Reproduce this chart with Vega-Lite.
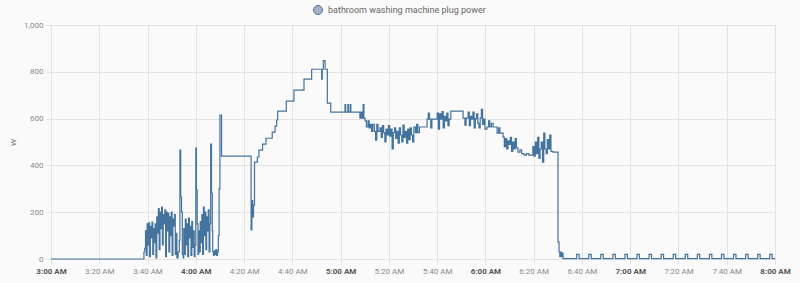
{
  "autosize": "none",
  "width": 724,
  "height": 234,
  "padding": {"left": 51, "top": 25, "right": 25, "bottom": 24},
  "background": "#fafafa",
  "config": {"view": {"stroke": null}, "font": "Roboto"},
  "data": {
    "values": [
      {"t": "2024-01-01T03:00:00", "w": 0},
      {"t": "2024-01-01T03:38:30", "w": 30},
      {"t": "2024-01-01T03:38:50", "w": 45},
      {"t": "2024-01-01T03:39:10", "w": 120},
      {"t": "2024-01-01T03:39:30", "w": 15},
      {"t": "2024-01-01T03:39:50", "w": 150},
      {"t": "2024-01-01T03:40:10", "w": 60},
      {"t": "2024-01-01T03:40:30", "w": 155},
      {"t": "2024-01-01T03:40:50", "w": 10},
      {"t": "2024-01-01T03:41:10", "w": 140},
      {"t": "2024-01-01T03:41:30", "w": 90},
      {"t": "2024-01-01T03:41:50", "w": 158},
      {"t": "2024-01-01T03:42:10", "w": 20},
      {"t": "2024-01-01T03:42:30", "w": 130},
      {"t": "2024-01-01T03:42:50", "w": 70},
      {"t": "2024-01-01T03:43:10", "w": 150},
      {"t": "2024-01-01T03:43:30", "w": 5},
      {"t": "2024-01-01T03:43:50", "w": 180},
      {"t": "2024-01-01T03:44:10", "w": 110},
      {"t": "2024-01-01T03:44:30", "w": 215},
      {"t": "2024-01-01T03:44:50", "w": 40},
      {"t": "2024-01-01T03:45:10", "w": 200},
      {"t": "2024-01-01T03:45:30", "w": 130},
      {"t": "2024-01-01T03:45:50", "w": 222},
      {"t": "2024-01-01T03:46:10", "w": 60},
      {"t": "2024-01-01T03:46:30", "w": 190},
      {"t": "2024-01-01T03:46:50", "w": 150},
      {"t": "2024-01-01T03:47:10", "w": 210},
      {"t": "2024-01-01T03:47:30", "w": 10},
      {"t": "2024-01-01T03:47:50", "w": 200},
      {"t": "2024-01-01T03:48:10", "w": 120},
      {"t": "2024-01-01T03:48:30", "w": 195},
      {"t": "2024-01-01T03:48:50", "w": 30},
      {"t": "2024-01-01T03:49:10", "w": 180},
      {"t": "2024-01-01T03:49:30", "w": 100},
      {"t": "2024-01-01T03:49:50", "w": 200},
      {"t": "2024-01-01T03:50:10", "w": 15},
      {"t": "2024-01-01T03:50:30", "w": 170},
      {"t": "2024-01-01T03:50:50", "w": 140},
      {"t": "2024-01-01T03:51:10", "w": 190},
      {"t": "2024-01-01T03:51:30", "w": 20},
      {"t": "2024-01-01T03:51:50", "w": 110},
      {"t": "2024-01-01T03:52:10", "w": 5},
      {"t": "2024-01-01T03:52:40", "w": 30},
      {"t": "2024-01-01T03:53:10", "w": 80},
      {"t": "2024-01-01T03:53:25", "w": 465},
      {"t": "2024-01-01T03:53:45", "w": 265},
      {"t": "2024-01-01T03:54:05", "w": 200},
      {"t": "2024-01-01T03:54:25", "w": 20},
      {"t": "2024-01-01T03:54:45", "w": 5},
      {"t": "2024-01-01T03:55:00", "w": 130},
      {"t": "2024-01-01T03:55:20", "w": 20},
      {"t": "2024-01-01T03:55:40", "w": 170},
      {"t": "2024-01-01T03:56:00", "w": 60},
      {"t": "2024-01-01T03:56:20", "w": 150},
      {"t": "2024-01-01T03:56:40", "w": 10},
      {"t": "2024-01-01T03:57:00", "w": 175},
      {"t": "2024-01-01T03:57:20", "w": 90},
      {"t": "2024-01-01T03:57:40", "w": 140},
      {"t": "2024-01-01T03:58:00", "w": 15},
      {"t": "2024-01-01T03:58:20", "w": 160},
      {"t": "2024-01-01T03:58:40", "w": 50},
      {"t": "2024-01-01T03:59:00", "w": 120},
      {"t": "2024-01-01T03:59:20", "w": 10},
      {"t": "2024-01-01T03:59:40", "w": 60},
      {"t": "2024-01-01T04:00:00", "w": 474},
      {"t": "2024-01-01T04:00:15", "w": 295},
      {"t": "2024-01-01T04:00:35", "w": 150},
      {"t": "2024-01-01T04:00:55", "w": 20},
      {"t": "2024-01-01T04:01:10", "w": 120},
      {"t": "2024-01-01T04:01:30", "w": 30},
      {"t": "2024-01-01T04:01:50", "w": 160},
      {"t": "2024-01-01T04:02:10", "w": 70},
      {"t": "2024-01-01T04:02:30", "w": 190},
      {"t": "2024-01-01T04:02:50", "w": 20},
      {"t": "2024-01-01T04:03:10", "w": 222},
      {"t": "2024-01-01T04:03:30", "w": 100},
      {"t": "2024-01-01T04:03:50", "w": 200},
      {"t": "2024-01-01T04:04:10", "w": 40},
      {"t": "2024-01-01T04:04:30", "w": 180},
      {"t": "2024-01-01T04:04:50", "w": 120},
      {"t": "2024-01-01T04:05:10", "w": 210},
      {"t": "2024-01-01T04:05:30", "w": 30},
      {"t": "2024-01-01T04:05:50", "w": 150},
      {"t": "2024-01-01T04:06:10", "w": 491},
      {"t": "2024-01-01T04:06:30", "w": 282},
      {"t": "2024-01-01T04:06:50", "w": 120},
      {"t": "2024-01-01T04:07:00", "w": 30},
      {"t": "2024-01-01T04:07:20", "w": 15},
      {"t": "2024-01-01T04:07:40", "w": 35},
      {"t": "2024-01-01T04:08:00", "w": 20},
      {"t": "2024-01-01T04:08:20", "w": 40},
      {"t": "2024-01-01T04:08:40", "w": 15},
      {"t": "2024-01-01T04:09:00", "w": 30},
      {"t": "2024-01-01T04:09:20", "w": 100},
      {"t": "2024-01-01T04:09:40", "w": 300},
      {"t": "2024-01-01T04:10:00", "w": 615},
      {"t": "2024-01-01T04:10:40", "w": 440},
      {"t": "2024-01-01T04:22:55", "w": 124},
      {"t": "2024-01-01T04:23:15", "w": 250},
      {"t": "2024-01-01T04:23:35", "w": 180},
      {"t": "2024-01-01T04:23:55", "w": 230},
      {"t": "2024-01-01T04:24:20", "w": 414},
      {"t": "2024-01-01T04:25:30", "w": 436},
      {"t": "2024-01-01T04:26:10", "w": 465},
      {"t": "2024-01-01T04:27:40", "w": 491},
      {"t": "2024-01-01T04:29:05", "w": 516},
      {"t": "2024-01-01T04:31:40", "w": 542},
      {"t": "2024-01-01T04:32:50", "w": 568},
      {"t": "2024-01-01T04:33:30", "w": 594},
      {"t": "2024-01-01T04:33:55", "w": 632},
      {"t": "2024-01-01T04:37:30", "w": 675},
      {"t": "2024-01-01T04:40:40", "w": 722},
      {"t": "2024-01-01T04:44:50", "w": 769},
      {"t": "2024-01-01T04:48:00", "w": 811},
      {"t": "2024-01-01T04:52:10", "w": 769},
      {"t": "2024-01-01T04:52:25", "w": 811},
      {"t": "2024-01-01T04:52:50", "w": 848},
      {"t": "2024-01-01T04:53:35", "w": 811},
      {"t": "2024-01-01T04:54:30", "w": 666},
      {"t": "2024-01-01T04:55:55", "w": 628},
      {"t": "2024-01-01T05:01:50", "w": 660},
      {"t": "2024-01-01T05:02:05", "w": 628},
      {"t": "2024-01-01T05:03:00", "w": 660},
      {"t": "2024-01-01T05:03:15", "w": 628},
      {"t": "2024-01-01T05:04:00", "w": 660},
      {"t": "2024-01-01T05:04:15", "w": 628},
      {"t": "2024-01-01T05:08:00", "w": 602},
      {"t": "2024-01-01T05:08:30", "w": 628},
      {"t": "2024-01-01T05:08:50", "w": 602},
      {"t": "2024-01-01T05:09:20", "w": 660},
      {"t": "2024-01-01T05:09:40", "w": 602},
      {"t": "2024-01-01T05:10:10", "w": 590},
      {"t": "2024-01-01T05:10:40", "w": 564},
      {"t": "2024-01-01T05:11:20", "w": 590},
      {"t": "2024-01-01T05:11:50", "w": 560},
      {"t": "2024-01-01T05:12:20", "w": 575},
      {"t": "2024-01-01T05:12:50", "w": 545},
      {"t": "2024-01-01T05:13:20", "w": 575},
      {"t": "2024-01-01T05:14:00", "w": 545},
      {"t": "2024-01-01T05:14:30", "w": 508},
      {"t": "2024-01-01T05:15:00", "w": 575},
      {"t": "2024-01-01T05:15:30", "w": 545},
      {"t": "2024-01-01T05:16:20", "w": 560},
      {"t": "2024-01-01T05:16:50", "w": 520},
      {"t": "2024-01-01T05:17:20", "w": 570},
      {"t": "2024-01-01T05:17:50", "w": 540},
      {"t": "2024-01-01T05:18:20", "w": 500},
      {"t": "2024-01-01T05:18:50", "w": 555},
      {"t": "2024-01-01T05:19:20", "w": 530},
      {"t": "2024-01-01T05:19:50", "w": 570},
      {"t": "2024-01-01T05:20:20", "w": 525},
      {"t": "2024-01-01T05:20:50", "w": 555},
      {"t": "2024-01-01T05:21:20", "w": 470},
      {"t": "2024-01-01T05:21:50", "w": 540},
      {"t": "2024-01-01T05:22:20", "w": 560},
      {"t": "2024-01-01T05:22:50", "w": 515},
      {"t": "2024-01-01T05:23:20", "w": 545},
      {"t": "2024-01-01T05:23:50", "w": 495},
      {"t": "2024-01-01T05:24:20", "w": 560},
      {"t": "2024-01-01T05:24:50", "w": 530},
      {"t": "2024-01-01T05:25:20", "w": 500},
      {"t": "2024-01-01T05:25:50", "w": 572},
      {"t": "2024-01-01T05:26:20", "w": 520},
      {"t": "2024-01-01T05:26:50", "w": 545},
      {"t": "2024-01-01T05:27:20", "w": 495},
      {"t": "2024-01-01T05:27:50", "w": 555},
      {"t": "2024-01-01T05:28:20", "w": 510},
      {"t": "2024-01-01T05:28:50", "w": 560},
      {"t": "2024-01-01T05:29:20", "w": 530},
      {"t": "2024-01-01T05:29:50", "w": 500},
      {"t": "2024-01-01T05:30:20", "w": 564},
      {"t": "2024-01-01T05:31:00", "w": 540},
      {"t": "2024-01-01T05:31:30", "w": 575},
      {"t": "2024-01-01T05:32:00", "w": 540},
      {"t": "2024-01-01T05:32:40", "w": 564},
      {"t": "2024-01-01T05:35:50", "w": 598},
      {"t": "2024-01-01T05:36:20", "w": 623},
      {"t": "2024-01-01T05:36:50", "w": 598},
      {"t": "2024-01-01T05:37:20", "w": 560},
      {"t": "2024-01-01T05:37:50", "w": 598},
      {"t": "2024-01-01T05:40:00", "w": 623},
      {"t": "2024-01-01T05:40:30", "w": 555},
      {"t": "2024-01-01T05:41:00", "w": 620},
      {"t": "2024-01-01T05:41:30", "w": 598},
      {"t": "2024-01-01T05:42:00", "w": 630},
      {"t": "2024-01-01T05:42:30", "w": 560},
      {"t": "2024-01-01T05:43:00", "w": 610},
      {"t": "2024-01-01T05:43:30", "w": 590},
      {"t": "2024-01-01T05:44:00", "w": 623},
      {"t": "2024-01-01T05:44:30", "w": 570},
      {"t": "2024-01-01T05:45:00", "w": 598},
      {"t": "2024-01-01T05:45:40", "w": 632},
      {"t": "2024-01-01T05:50:45", "w": 602},
      {"t": "2024-01-01T05:51:30", "w": 572},
      {"t": "2024-01-01T05:52:00", "w": 602},
      {"t": "2024-01-01T05:52:50", "w": 628},
      {"t": "2024-01-01T05:53:20", "w": 570},
      {"t": "2024-01-01T05:53:50", "w": 610},
      {"t": "2024-01-01T05:54:20", "w": 598},
      {"t": "2024-01-01T05:54:50", "w": 628},
      {"t": "2024-01-01T05:55:20", "w": 560},
      {"t": "2024-01-01T05:55:50", "w": 600},
      {"t": "2024-01-01T05:56:20", "w": 620},
      {"t": "2024-01-01T05:56:50", "w": 580},
      {"t": "2024-01-01T05:57:20", "w": 560},
      {"t": "2024-01-01T05:57:50", "w": 602},
      {"t": "2024-01-01T05:58:20", "w": 640},
      {"t": "2024-01-01T05:58:50", "w": 575},
      {"t": "2024-01-01T05:59:20", "w": 598},
      {"t": "2024-01-01T05:59:50", "w": 555},
      {"t": "2024-01-01T06:00:40", "w": 564},
      {"t": "2024-01-01T06:01:20", "w": 590},
      {"t": "2024-01-01T06:01:50", "w": 564},
      {"t": "2024-01-01T06:02:30", "w": 580},
      {"t": "2024-01-01T06:03:10", "w": 564},
      {"t": "2024-01-01T06:04:50", "w": 538},
      {"t": "2024-01-01T06:05:30", "w": 560},
      {"t": "2024-01-01T06:06:00", "w": 538},
      {"t": "2024-01-01T06:07:20", "w": 521},
      {"t": "2024-01-01T06:07:50", "w": 480},
      {"t": "2024-01-01T06:08:20", "w": 515},
      {"t": "2024-01-01T06:08:50", "w": 470},
      {"t": "2024-01-01T06:09:20", "w": 505},
      {"t": "2024-01-01T06:09:50", "w": 490},
      {"t": "2024-01-01T06:10:20", "w": 520},
      {"t": "2024-01-01T06:10:50", "w": 460},
      {"t": "2024-01-01T06:11:20", "w": 500},
      {"t": "2024-01-01T06:11:50", "w": 470},
      {"t": "2024-01-01T06:12:20", "w": 515},
      {"t": "2024-01-01T06:12:50", "w": 475},
      {"t": "2024-01-01T06:13:30", "w": 457},
      {"t": "2024-01-01T06:14:20", "w": 466},
      {"t": "2024-01-01T06:15:00", "w": 450},
      {"t": "2024-01-01T06:16:00", "w": 444},
      {"t": "2024-01-01T06:17:00", "w": 450},
      {"t": "2024-01-01T06:18:00", "w": 444},
      {"t": "2024-01-01T06:19:40", "w": 480},
      {"t": "2024-01-01T06:20:10", "w": 440},
      {"t": "2024-01-01T06:20:40", "w": 500},
      {"t": "2024-01-01T06:21:10", "w": 450},
      {"t": "2024-01-01T06:21:40", "w": 520},
      {"t": "2024-01-01T06:22:10", "w": 430},
      {"t": "2024-01-01T06:22:40", "w": 470},
      {"t": "2024-01-01T06:23:10", "w": 500},
      {"t": "2024-01-01T06:23:40", "w": 414},
      {"t": "2024-01-01T06:24:10", "w": 538},
      {"t": "2024-01-01T06:24:40", "w": 470},
      {"t": "2024-01-01T06:25:10", "w": 450},
      {"t": "2024-01-01T06:25:40", "w": 510},
      {"t": "2024-01-01T06:26:10", "w": 470},
      {"t": "2024-01-01T06:26:40", "w": 530},
      {"t": "2024-01-01T06:27:10", "w": 460},
      {"t": "2024-01-01T06:28:00", "w": 457},
      {"t": "2024-01-01T06:30:05", "w": 73},
      {"t": "2024-01-01T06:30:30", "w": 30},
      {"t": "2024-01-01T06:30:50", "w": 10},
      {"t": "2024-01-01T06:31:10", "w": 30},
      {"t": "2024-01-01T06:31:30", "w": 10},
      {"t": "2024-01-01T06:31:50", "w": 25},
      {"t": "2024-01-01T06:32:10", "w": 2},
      {"t": "2024-01-01T06:37:50", "w": 20},
      {"t": "2024-01-01T06:38:50", "w": 2},
      {"t": "2024-01-01T06:42:50", "w": 20},
      {"t": "2024-01-01T06:43:50", "w": 2},
      {"t": "2024-01-01T06:47:50", "w": 20},
      {"t": "2024-01-01T06:48:50", "w": 2},
      {"t": "2024-01-01T06:52:50", "w": 20},
      {"t": "2024-01-01T06:53:50", "w": 2},
      {"t": "2024-01-01T06:57:50", "w": 20},
      {"t": "2024-01-01T06:58:50", "w": 2},
      {"t": "2024-01-01T07:02:50", "w": 20},
      {"t": "2024-01-01T07:03:50", "w": 2},
      {"t": "2024-01-01T07:07:50", "w": 20},
      {"t": "2024-01-01T07:08:50", "w": 2},
      {"t": "2024-01-01T07:12:50", "w": 20},
      {"t": "2024-01-01T07:13:50", "w": 2},
      {"t": "2024-01-01T07:17:50", "w": 20},
      {"t": "2024-01-01T07:18:50", "w": 2},
      {"t": "2024-01-01T07:22:50", "w": 20},
      {"t": "2024-01-01T07:23:50", "w": 2},
      {"t": "2024-01-01T07:27:50", "w": 20},
      {"t": "2024-01-01T07:28:50", "w": 2},
      {"t": "2024-01-01T07:32:50", "w": 20},
      {"t": "2024-01-01T07:33:50", "w": 2},
      {"t": "2024-01-01T07:37:50", "w": 20},
      {"t": "2024-01-01T07:38:50", "w": 2},
      {"t": "2024-01-01T07:42:50", "w": 20},
      {"t": "2024-01-01T07:43:50", "w": 2},
      {"t": "2024-01-01T07:47:50", "w": 20},
      {"t": "2024-01-01T07:48:50", "w": 2},
      {"t": "2024-01-01T07:52:50", "w": 20},
      {"t": "2024-01-01T07:53:50", "w": 2},
      {"t": "2024-01-01T07:57:50", "w": 20},
      {"t": "2024-01-01T07:58:50", "w": 2},
      {"t": "2024-01-01T08:00:00", "w": 2}
    ]
  },
  "mark": {"type": "line", "interpolate": "step-after", "strokeWidth": 1.2},
  "encoding": {
    "x": {
      "field": "t",
      "type": "temporal",
      "scale": {"domain": [{"year": 2024, "month": 1, "date": 1, "hours": 3}, {"year": 2024, "month": 1, "date": 1, "hours": 8}]},
      "axis": {
        "title": null,
        "format": "%-I:%M %p",
        "values": [
          {"year": 2024, "month": 1, "date": 1, "hours": 3, "minutes": 0},
          {"year": 2024, "month": 1, "date": 1, "hours": 3, "minutes": 20},
          {"year": 2024, "month": 1, "date": 1, "hours": 3, "minutes": 40},
          {"year": 2024, "month": 1, "date": 1, "hours": 4, "minutes": 0},
          {"year": 2024, "month": 1, "date": 1, "hours": 4, "minutes": 20},
          {"year": 2024, "month": 1, "date": 1, "hours": 4, "minutes": 40},
          {"year": 2024, "month": 1, "date": 1, "hours": 5, "minutes": 0},
          {"year": 2024, "month": 1, "date": 1, "hours": 5, "minutes": 20},
          {"year": 2024, "month": 1, "date": 1, "hours": 5, "minutes": 40},
          {"year": 2024, "month": 1, "date": 1, "hours": 6, "minutes": 0},
          {"year": 2024, "month": 1, "date": 1, "hours": 6, "minutes": 20},
          {"year": 2024, "month": 1, "date": 1, "hours": 6, "minutes": 40},
          {"year": 2024, "month": 1, "date": 1, "hours": 7, "minutes": 0},
          {"year": 2024, "month": 1, "date": 1, "hours": 7, "minutes": 20},
          {"year": 2024, "month": 1, "date": 1, "hours": 7, "minutes": 40},
          {"year": 2024, "month": 1, "date": 1, "hours": 8, "minutes": 0}
        ],
        "labelFlush": false,
        "labelOverlap": false,
        "labelFontSize": 8,
        "labelPadding": 3,
        "labelColor": {"condition": {"test": "minutes(datum.value) === 0", "value": "#555555"}, "value": "#8a8a8a"},
        "labelFontWeight": {"condition": {"test": "minutes(datum.value) === 0", "value": "bold"}, "value": "normal"},
        "grid": true,
        "gridColor": "#e3e3e3",
        "tickColor": "#e3e3e3",
        "tickSize": 5,
        "domainColor": "#e3e3e3"
      }
    },
    "y": {
      "field": "w",
      "type": "quantitative",
      "scale": {"domain": [0, 1000], "nice": false},
      "axis": {
        "title": "W",
        "titleFontSize": 8,
        "titleFontWeight": "normal",
        "titleColor": "#777777",
        "titlePadding": 6,
        "values": [0, 200, 400, 600, 800, 1000],
        "format": ",d",
        "labelFontSize": 8,
        "labelColor": "#8a8a8a",
        "labelPadding": 3,
        "grid": true,
        "gridColor": "#e3e3e3",
        "tickColor": "#e3e3e3",
        "tickSize": 5,
        "domainColor": "#e3e3e3"
      }
    },
    "color": {
      "datum": "bathroom washing machine plug power",
      "type": "nominal",
      "scale": {"range": ["#44739e"]},
      "legend": {
        "title": null,
        "orient": "none",
        "legendX": 262,
        "legendY": -20,
        "direction": "horizontal",
        "padding": 0,
        "symbolType": "circle",
        "symbolSize": 80,
        "symbolFillColor": "#a5b4cb",
        "symbolStrokeWidth": 1,
        "labelFontSize": 9,
        "labelColor": "#666666",
        "labelOffset": 5
      }
    }
  }
}
